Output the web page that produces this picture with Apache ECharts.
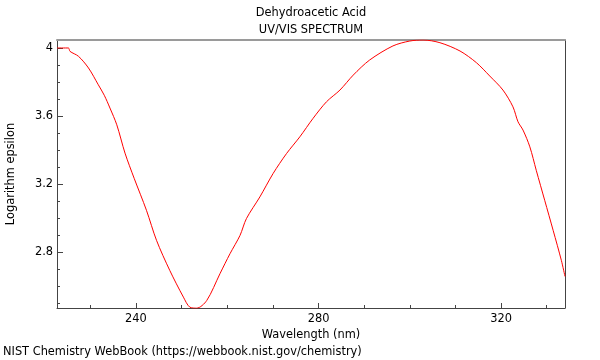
<!DOCTYPE html>
<html>
<head>
<meta charset="utf-8">
<script src="https://cdn.jsdelivr.net/npm/echarts@6/dist/echarts.min.js"></script>
<style>html,body{margin:0;padding:0;background:#fff}#c{width:600px;height:360px}</style>
</head>
<body>
<div id="c"></div>
<script>
const wavelengths = [222.7, 225.2, 225.55, 227.4, 229.6, 231.75, 233.06, 234.3, 235.8, 237.6, 239.6, 242.3, 244.5, 247.4, 250.4, 251.8, 253.3, 255.5, 258.4, 260.6, 262.8, 264.2, 267.15, 270.05, 273.0, 275.9, 278.8, 281.75, 284.7, 287.6, 291.2, 296.3, 300.0, 302.9, 306.6, 311.0, 314.6, 317.5, 320.4, 322.6, 323.7, 324.8, 326.3, 327.7, 329.55, 331.4, 333.2, 334.0];
const logEpsilon = [4.003, 4.003, 3.983, 3.954, 3.885, 3.786, 3.724, 3.649, 3.550, 3.383, 3.235, 3.046, 2.869, 2.692, 2.534, 2.475, 2.469, 2.514, 2.672, 2.790, 2.898, 2.997, 3.125, 3.263, 3.381, 3.479, 3.588, 3.686, 3.755, 3.843, 3.932, 4.015, 4.044, 4.050, 4.034, 3.985, 3.916, 3.838, 3.755, 3.656, 3.568, 3.519, 3.420, 3.282, 3.105, 2.928, 2.751, 2.656];
const xMajorTicks = [240, 280, 320];
const xMinorTicks = [230, 250, 260, 270, 290, 300, 310, 330];
const yMajorTicks = [2.8, 3.2, 3.6, 4];
const yMinorTicks = [2.5, 2.6, 2.7, 2.9, 3.0, 3.1, 3.3, 3.4, 3.5, 3.7, 3.8, 3.9, 4.0];
const xRange = [222.7, 334];
const yRange = [2.47, 4.05];
const titleText = 'Dehydroacetic Acid';
const subtitleText = 'UV/VIS SPECTRUM';
const xName = 'Wavelength (nm)';
const yName = 'Logarithm epsilon';
const footerText = 'NIST Chemistry WebBook (https://webbook.nist.gov/chemistry)';

const FONT = 'DejaVu Sans';
const FS = 11.4;
const dark = '#444';
const gridBox = {left: 57, right: 35, top: 40, bottom: 52, containLabel: false, outerBoundsMode: 'none'};

const chart = echarts.init(document.getElementById('c'), null, {renderer: 'canvas'});
chart.setOption({
  animation: false,
  backgroundColor: '#fff',
  textStyle: {fontFamily: FONT},
  title: [
    {text: titleText, subtext: subtitleText, left: 311, top: 8, textAlign: 'center', itemGap: 6,
     textStyle: {fontSize: FS, fontWeight: 'normal', color: '#000', fontFamily: FONT},
     subtextStyle: {fontSize: FS, color: '#000', fontFamily: FONT}, padding: 0},
    {text: footerText, left: 3, top: 347, padding: 0,
     textStyle: {fontSize: FS, fontWeight: 'normal', color: '#000', fontFamily: FONT}}
  ],
  grid: [
    Object.assign({}, gridBox),
    Object.assign({}, gridBox)
  ],
  xAxis: [
    {type: 'value', gridIndex: 0, min: xRange[0], max: xRange[1], position: 'bottom',
     name: xName, nameLocation: 'middle', nameGap: 18,
     nameTextStyle: {fontSize: FS, color: '#000', fontFamily: FONT, verticalAlign: 'top'},
     axisLine: {show: true, lineStyle: {color: dark, width: 1}},
     axisTick: {show: true, inside: true, length: 5, customValues: xMajorTicks, lineStyle: {color: dark}},
     axisLabel: {customValues: xMajorTicks, margin: 6, fontSize: FS, color: '#000', fontFamily: FONT},
     splitLine: {show: false}},
    {type: 'value', gridIndex: 1, min: xRange[0], max: xRange[1], position: 'bottom',
     axisLine: {show: false},
     axisTick: {show: true, inside: true, length: 3, customValues: xMinorTicks, lineStyle: {color: dark}},
     axisLabel: {show: false, customValues: xMinorTicks},
     splitLine: {show: false}},
    {type: 'value', gridIndex: 1, min: xRange[0], max: xRange[1], position: 'top',
     axisLine: {show: true, lineStyle: {color: '#9a9a9a', width: 2}},
     axisTick: {show: false}, axisLabel: {show: false}, splitLine: {show: false}}
  ],
  yAxis: [
    {type: 'value', gridIndex: 0, min: yRange[0], max: yRange[1], position: 'left',
     name: yName, nameLocation: 'middle', nameGap: 40,
     nameTextStyle: {fontSize: FS, color: '#000', fontFamily: FONT},
     axisLine: {show: true, lineStyle: {color: dark, width: 1}},
     axisTick: {show: true, inside: true, length: 6, customValues: yMajorTicks, lineStyle: {color: dark}},
     axisLabel: {customValues: yMajorTicks, margin: 4, fontSize: FS, color: '#000', fontFamily: FONT},
     splitLine: {show: false}},
    {type: 'value', gridIndex: 1, min: yRange[0], max: yRange[1], position: 'left',
     axisLine: {show: false},
     axisTick: {show: true, inside: true, length: 3, customValues: yMinorTicks, lineStyle: {color: dark}},
     axisLabel: {show: false, customValues: yMinorTicks},
     splitLine: {show: false}},
    {type: 'value', gridIndex: 1, min: yRange[0], max: yRange[1], position: 'right',
     axisLine: {show: true, lineStyle: {color: dark, width: 1}},
     axisTick: {show: false}, axisLabel: {show: false}, splitLine: {show: false}}
  ],
  series: [{
    type: 'line', xAxisIndex: 0, yAxisIndex: 0,
    data: wavelengths.map((w, i) => [w, logEpsilon[i]]),
    showSymbol: false, smooth: 0.3, clip: true,
    lineStyle: {color: '#ff0000', width: 1},
    itemStyle: {color: '#ff0000'}
  }]
});
</script>
</body>
</html>
